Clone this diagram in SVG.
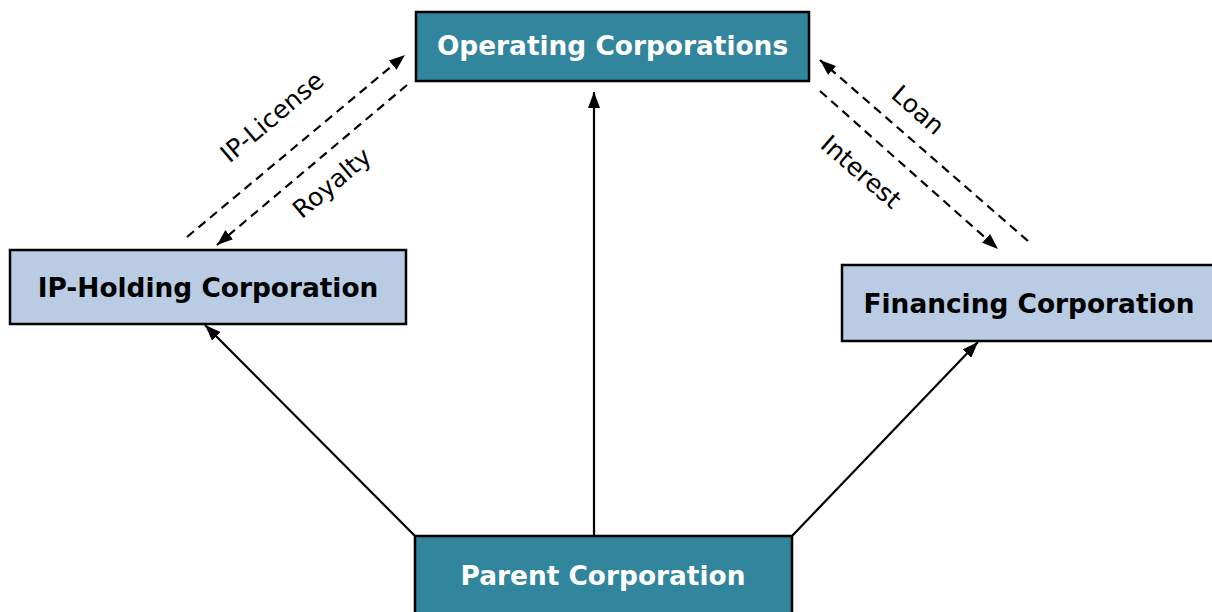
<svg xmlns="http://www.w3.org/2000/svg" width="1212" height="612" viewBox="0 0 1212 612">
<defs>
<marker id="ah" viewBox="0 0 16 12" refX="16" refY="6" markerWidth="16" markerHeight="12" markerUnits="userSpaceOnUse" orient="auto">
<path d="M0,0 L16,6 L0,12 Z" fill="#000"/>
</marker>
</defs>
<style>
.dark{fill:#31859c;stroke:#000;stroke-width:2.5}
.light{fill:#b9cce4;stroke:#000;stroke-width:2.5}
.t{font-family:"DejaVu Sans",Verdana,sans-serif;font-weight:bold;font-size:26.4px;text-anchor:middle;dominant-baseline:central}
.w{fill:#fff}
.k{fill:#000}
.c{stroke:#000;stroke-width:2.2;fill:none;marker-end:url(#ah)}
.d{stroke-dasharray:9 6}
.l{font-family:"DejaVu Sans",Verdana,sans-serif;font-size:25px;text-anchor:middle;dominant-baseline:central;fill:#000}
</style>
<g id="connectors">
<line class="c" x1="594" y1="536" x2="594" y2="92"/>
<line class="c" x1="415" y1="536" x2="205" y2="325"/>
<line class="c" x1="792" y1="536" x2="978" y2="342"/>
<line class="c d" x1="187" y1="237" x2="405" y2="55"/>
<line class="c d" x1="407" y1="85" x2="217" y2="245"/>
<line class="c d" x1="1028" y1="241" x2="820" y2="60"/>
<line class="c d" x1="820" y1="91" x2="998" y2="249"/>
<text class="l" transform="translate(272,117) rotate(-40)">IP-License</text>
<text class="l" transform="translate(332,183) rotate(-40)">Royalty</text>
<text class="l" transform="translate(918,110) rotate(41)">Loan</text>
<text class="l" transform="translate(861,172) rotate(41)">Interest</text>
</g>
<g id="operating">
<rect class="dark" x="416" y="12" width="393" height="69"/>
<text class="t w" x="612.5" y="45">Operating Corporations</text>
</g>
<g id="ipholding">
<rect class="light" x="10" y="250" width="396" height="74"/>
<text class="t k" x="208" y="287">IP-Holding Corporation</text>
</g>
<g id="financing">
<rect class="light" x="842" y="265" width="380" height="76"/>
<text class="t k" x="1029" y="303">Financing Corporation</text>
</g>
<g id="parent">
<rect class="dark" x="415" y="536" width="377" height="90"/>
<text class="t w" x="603" y="575">Parent Corporation</text>
</g>
</svg>
